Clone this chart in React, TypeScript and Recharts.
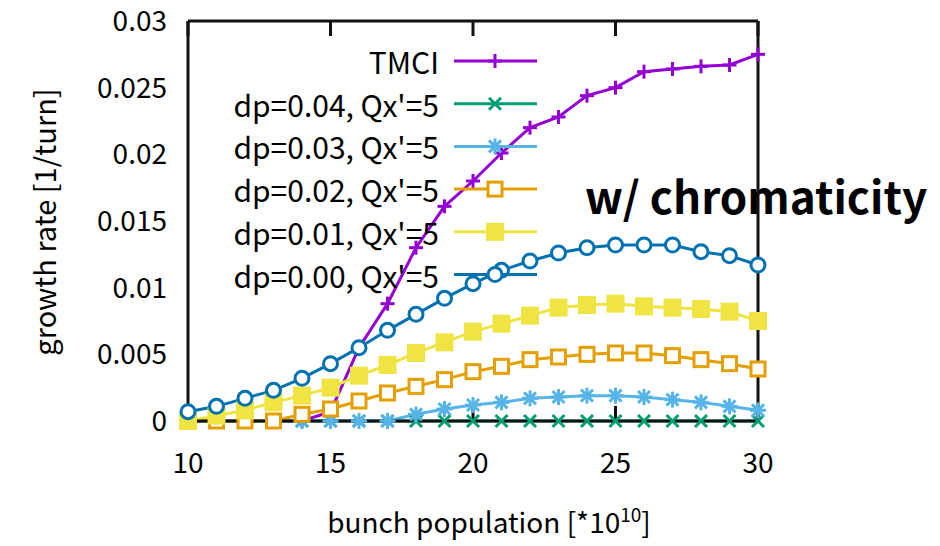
import React from 'react';
import {
  LineChart, Line, XAxis, YAxis, Legend, Customized
} from 'recharts';

const population = [10, 11, 12, 13, 14, 15, 16, 17, 18, 19, 20, 21, 22, 23, 24, 25, 26, 27, 28, 29, 30];
const tmci = [0, 0, 0, 0, 0, 0.0007, 0.0055, 0.0088, 0.013, 0.0161, 0.018, 0.0201, 0.022, 0.0228, 0.0244, 0.025, 0.0262, 0.0264, 0.0266, 0.0267, 0.0275];
const dp004 = [0, 0, 0, 0, 0, 0, 0, 0, 0, 0, 0, 0, 0, 0, 0, 0, 0, 0, 0, 0, 0];
const dp003 = [0, 0, 0, 0, 0, 0, 0, 0, 0.0005, 0.0009, 0.0012, 0.0014, 0.0017, 0.0018, 0.0019, 0.0019, 0.0018, 0.0016, 0.0014, 0.0011, 0.0008];
const dp002 = [0, 0, 0, 0, 0.0005, 0.0009, 0.0015, 0.0021, 0.0026, 0.0031, 0.0037, 0.0041, 0.0046, 0.0048, 0.005, 0.0051, 0.0051, 0.0049, 0.0046, 0.0043, 0.0039];
const dp001 = [0, 0.0004, 0.0008, 0.0014, 0.0019, 0.0025, 0.0034, 0.0042, 0.0051, 0.0059, 0.0067, 0.0073, 0.0079, 0.0085, 0.0087, 0.0088, 0.0086, 0.0085, 0.0084, 0.0082, 0.0075];
const dp000 = [0.0007, 0.0011, 0.0017, 0.0023, 0.0032, 0.0043, 0.0055, 0.0068, 0.008, 0.0092, 0.0103, 0.0113, 0.012, 0.0126, 0.013, 0.0132, 0.0132, 0.0132, 0.0127, 0.0124, 0.0117];

const xTicks = [10, 15, 20, 25, 30];
const yTicks = [0, 0.005, 0.01, 0.015, 0.02, 0.025, 0.03];

const data = population.map((n, i) => ({
  n,
  tmci: tmci[i],
  dp004: dp004[i],
  dp003: dp003[i],
  dp002: dp002[i],
  dp001: dp001[i],
  dp000: dp000[i],
}));

const FONT = '"Noto Sans CJK JP", "Noto Sans", sans-serif';
const X_DOMAIN: [number, number] = [10, 30];
const Y_DOMAIN: [number, number] = [0, 0.03];

type Shape = 'plus' | 'cross' | 'star' | 'square' | 'fsquare' | 'circle';

const series: { key: string; name: string; color: string; shape: Shape }[] = [
  { key: 'tmci', name: 'TMCI', color: '#9400d3', shape: 'plus' },
  { key: 'dp004', name: "dp=0.04, Qx'=5", color: '#009e73', shape: 'cross' },
  { key: 'dp003', name: "dp=0.03, Qx'=5", color: '#56b4e9', shape: 'star' },
  { key: 'dp002', name: "dp=0.02, Qx'=5", color: '#e69f00', shape: 'square' },
  { key: 'dp001', name: "dp=0.01, Qx'=5", color: '#f0e442', shape: 'fsquare' },
  { key: 'dp000', name: "dp=0.00, Qx'=5", color: '#0072b2', shape: 'circle' },
];

function Marker({ x, y, shape, color }: { x: number; y: number; shape: Shape; color: string }) {
  switch (shape) {
    case 'plus':
      return (
        <g stroke={color} strokeWidth={3}>
          <line x1={x - 7} y1={y} x2={x + 7} y2={y} />
          <line x1={x} y1={y - 7} x2={x} y2={y + 7} />
        </g>
      );
    case 'cross':
      return (
        <g stroke={color} strokeWidth={3}>
          <line x1={x - 6} y1={y - 6} x2={x + 6} y2={y + 6} />
          <line x1={x - 6} y1={y + 6} x2={x + 6} y2={y - 6} />
        </g>
      );
    case 'star':
      return (
        <g stroke={color} strokeWidth={3}>
          <line x1={x - 6} y1={y - 6} x2={x + 6} y2={y + 6} />
          <line x1={x - 6} y1={y + 6} x2={x + 6} y2={y - 6} />
          <line x1={x - 8} y1={y} x2={x + 8} y2={y} />
          <line x1={x} y1={y - 8} x2={x} y2={y + 8} />
        </g>
      );
    case 'square':
      return <rect x={x - 7} y={y - 7} width={14} height={14} fill="#fff" stroke={color} strokeWidth={3} />;
    case 'fsquare':
      return <rect x={x - 9} y={y - 9} width={18} height={18} fill={color} />;
    default:
      return <circle cx={x} cy={y} r={7} fill="#fff" stroke={color} strokeWidth={3} />;
  }
}

const LegendBox = () => (
  <svg width={940} height={546} style={{ position: 'absolute', left: 0, top: 0, pointerEvents: 'none' }}>
    {series.map((s, i) => {
      const y = 61 + i * 42.7;
      return (
        <g key={s.key}>
          <text x={439} y={y} textAnchor="end" dominantBaseline="central" fontFamily={FONT} fontSize={30} fill="#000">
            {s.name}
          </text>
          <line x1={454} y1={y} x2={537} y2={y} stroke={s.color} strokeWidth={3} />
          <Marker x={495} y={y} shape={s.shape} color={s.color} />
        </g>
      );
    })}
  </svg>
);

const Annotations = () => (
  <g fontFamily={FONT} fill="#000">
    <text x={43} y={222} transform="rotate(-90 43 222)" textAnchor="middle" dominantBaseline="central" fontSize={29}>
      growth rate [1/turn]
    </text>
    <text x={489} y={533} textAnchor="middle" fontSize={28}>
      bunch population [*10<tspan fontSize={19} dy={-11}>10</tspan><tspan dy={11}>]</tspan>
    </text>
    <text x={585} y={214} fontSize={44} fontWeight="bold">
      w/ chromaticity
    </text>
  </g>
);

const tickStyle = { fill: '#000', fontSize: 28, fontFamily: FONT };
const noLabel = () => '';
const border = { stroke: '#111', strokeWidth: 3 };
// gnuplot-style box: mirrored axes put inward ticks on every side
const frame = { axisLine: border, tickLine: border, stroke: '#111', strokeWidth: 3, tickSize: 15, tickFormatter: noLabel };

export default function App() {
  return (
    <div style={{ position: 'absolute', left: 0, top: 0, width: 940, height: 546, background: '#fff' }}>
      <LineChart
        width={940}
        height={546}
        data={data}
        margin={{ top: 21, right: 182, bottom: 84, left: 100 }}
      >
        {/* labelled axes */}
        <XAxis
          xAxisId="x"
          dataKey="n"
          type="number"
          domain={X_DOMAIN}
          ticks={xTicks}
          height={41}
          axisLine={false}
          tickLine={false}
          tickSize={0}
          tickMargin={32}
          tick={tickStyle}
        />
        <YAxis
          yAxisId="y"
          type="number"
          domain={Y_DOMAIN}
          ticks={yTicks}
          width={88}
          axisLine={false}
          tickLine={false}
          tickSize={0}
          tickMargin={21}
          tick={tickStyle}
        />
        <XAxis xAxisId="xb" dataKey="n" type="number" domain={X_DOMAIN} ticks={xTicks} mirror height={1} {...frame} />
        <XAxis xAxisId="xt" dataKey="n" type="number" domain={X_DOMAIN} ticks={xTicks} orientation="top" mirror height={1} {...frame} />
        <YAxis yAxisId="yl" type="number" domain={Y_DOMAIN} ticks={yTicks} mirror width={1} {...frame} />
        <YAxis yAxisId="yr" type="number" domain={Y_DOMAIN} ticks={yTicks} orientation="right" mirror width={1} {...frame} />
        {series.map((s) => (
          <Line
            key={s.key}
            xAxisId="x"
            yAxisId="y"
            type="linear"
            dataKey={s.key}
            name={s.name}
            stroke={s.color}
            strokeWidth={3}
            isAnimationActive={false}
            dot={(p: any) => (
              <Marker key={`${s.key}-${p.index}`} x={p.cx} y={p.cy} shape={s.shape} color={s.color} />
            )}
            activeDot={false}
          />
        ))}
        <Legend
          layout="vertical"
          align="center"
          verticalAlign="middle"
          wrapperStyle={{ left: 0, top: 0, width: 940, height: 546 }}
          content={() => <LegendBox />}
        />
        <Customized component={Annotations} />
      </LineChart>
    </div>
  );
}
